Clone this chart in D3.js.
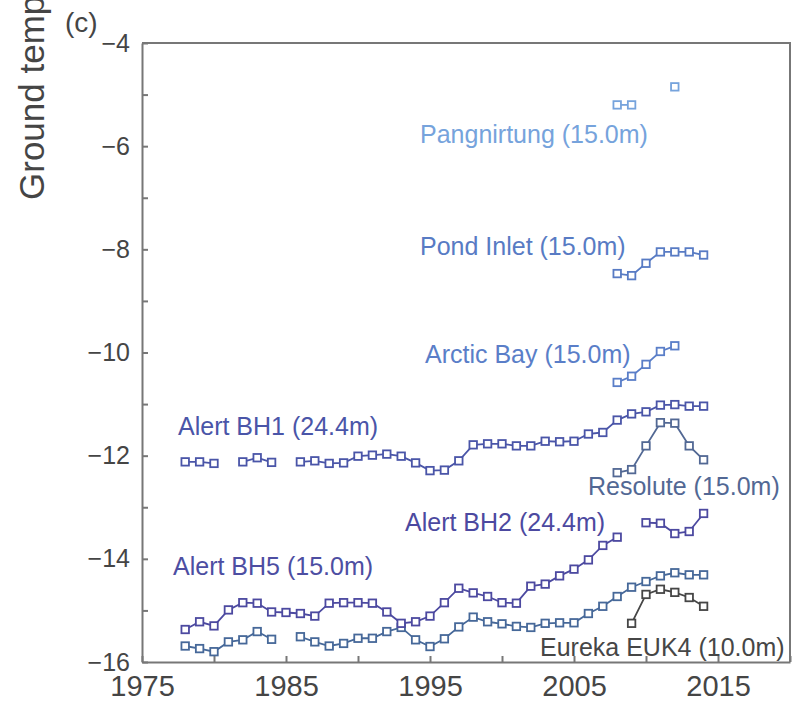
<!DOCTYPE html>
<html>
<head>
<meta charset="utf-8">
<script src="https://cdn.jsdelivr.net/npm/d3@7"></script>
<style>
html,body{margin:0;padding:0;background:#fff;}
svg{display:block;font-family:"Liberation Sans",Arial,sans-serif;}
</style>
</head>
<body>
<svg id="chart" width="792" height="702"></svg>
<script>
// ---------- data ----------
const yearsAlert = [1978,1979,1980,1981,1982,1983,1984,1985,1986,1987,1988,1989,1990,1991,1992,1993,1994,1995,1996,1997,1998,1999,2000,2001,2002,2003,2004,2005,2006,2007,2008,2009,2010,2011,2012,2013,2014];
const alertBH1 = [-12.12,-12.12,-12.15,null,-12.12,-12.04,-12.13,null,-12.12,-12.10,-12.15,-12.14,-12.01,-11.99,-11.97,-12.01,-12.14,-12.29,-12.28,-12.10,-11.79,-11.77,-11.77,-11.81,-11.81,-11.72,-11.73,-11.72,-11.58,-11.55,-11.31,-11.19,-11.15,-11.02,-11.01,-11.04,-11.04];
const alertBH2 = [-15.37,-15.22,-15.30,-14.99,-14.85,-14.86,-15.03,-15.04,-15.06,-15.11,-14.86,-14.85,-14.85,-14.86,-15.03,-15.25,-15.22,-15.11,-14.85,-14.57,-14.66,-14.73,-14.85,-14.86,-14.53,-14.49,-14.33,-14.20,-14.02,-13.74,-13.58,null,-13.30,-13.31,-13.51,-13.47,-13.12];
const alertBH5 = [-15.69,-15.74,-15.80,-15.61,-15.57,-15.41,-15.56,null,-15.51,-15.61,-15.69,-15.64,-15.54,-15.54,-15.41,-15.33,-15.57,-15.70,-15.55,-15.32,-15.13,-15.22,-15.26,-15.31,-15.33,-15.25,-15.24,-15.24,-15.06,-14.92,-14.73,-14.55,-14.44,-14.33,-14.27,-14.31,-14.31];
const yearsRecent = [2008,2009,2010,2011,2012,2013,2014];
const resolute = [-12.33,-12.27,-11.81,-11.36,-11.37,-11.81,-12.08];
const pondInlet = [-8.47,-8.51,-8.27,-8.05,-8.05,-8.05,-8.11];
const arcticBay = [-10.58,-10.46,-10.23,-9.98,-9.87,null,null];
const pangnirtung = [-5.20,-5.20,null,null,-4.85,null,null];
const yearsEureka = [2009,2010,2011,2012,2013,2014];
const eureka = [-15.25,-14.69,-14.59,-14.65,-14.75,-14.92];

const xTicks = [1975,1980,1985,1990,1995,2000,2005,2010,2015,2020];
const xTickLabels = [1975,1985,1995,2005,2015];
const yTicks = [-16,-15,-14,-13,-12,-11,-10,-9,-8,-7,-6,-5,-4];
const yTickLabels = [-16,-14,-12,-10,-8,-6,-4];

const seriesList = [
  {name:"Alert BH1 (24.4m)", years:yearsAlert, values:alertBH1, color:"#4a55a8", label:[178,435]},
  {name:"Alert BH5 (15.0m)", years:yearsAlert, values:alertBH5, color:"#466899", label:[173,575], labelColor:"#4d4ea2"},
  {name:"Alert BH2 (24.4m)", years:yearsAlert, values:alertBH2, color:"#4c49a0", label:[405,531]},
  {name:"Resolute (15.0m)", years:yearsRecent, values:resolute, color:"#526894", label:[588,495]},
  {name:"Arctic Bay (15.0m)", years:yearsRecent, values:arcticBay, color:"#5a7ec8", label:[425,363]},
  {name:"Pond Inlet (15.0m)", years:yearsRecent, values:pondInlet, color:"#587bc4", label:[420,255]},
  {name:"Pangnirtung (15.0m)", years:yearsRecent, values:pangnirtung, color:"#76a3dc", label:[420,143]},
  {name:"Eureka EUK4 (10.0m)", years:yearsEureka, values:eureka, color:"#464646", label:[540,656]}
];

// ---------- chart ----------
const svg = d3.select("#chart");
const x = d3.scaleLinear().domain([1975, 2020]).range([142, 790]);
const y = d3.scaleLinear().domain([-16, -4]).range([662, 43]);
const axisColor = "#777";
const textColor = "#454545";

// frame (top & right)
svg.append("path")
  .attr("d", `M${x(1975)},${y(-4)}H${x(2020)}V${y(-16)}`)
  .attr("fill","none").attr("stroke",axisColor).attr("stroke-width",2);

const gx = svg.append("g").attr("transform",`translate(0,${y(-16)})`)
  .call(d3.axisBottom(x).tickValues(xTicks).tickSizeInner(-6).tickSizeOuter(0)
    .tickFormat(d => xTickLabels.includes(d) ? String(d) : ""));
gx.select(".domain").attr("stroke",axisColor).attr("stroke-width",2);
gx.selectAll(".tick line").attr("stroke",axisColor).attr("stroke-width",2);
gx.selectAll(".tick text").attr("y",34).attr("dy",0).attr("fill",textColor)
  .style("font-size","29px").style("font-family","Liberation Sans, Arial, sans-serif");

const gy = svg.append("g").attr("transform",`translate(${x(1975)},0)`)
  .call(d3.axisLeft(y).tickValues(yTicks).tickSizeInner(-6).tickSizeOuter(0).tickPadding(12)
    .tickFormat(d => yTickLabels.includes(d) ? d3.format("d")(d) : ""));
gy.select(".domain").attr("stroke",axisColor).attr("stroke-width",2);
gy.selectAll(".tick line").attr("stroke",axisColor).attr("stroke-width",2);
gy.selectAll(".tick text").attr("fill",textColor)
  .style("font-size","25px").style("font-family","Liberation Sans, Arial, sans-serif");

// axis title (clipped at top, as in the original figure) and panel tag
svg.append("text")
  .attr("transform","translate(44,200) rotate(-90)")
  .attr("fill",textColor).style("font-size","35px")
  .text("Ground temperature (°C)");
svg.append("text").attr("x",65).attr("y",32).attr("fill",textColor)
  .style("font-size","28px").text("(c)");

// series
const line = d3.line().defined(d => d.v != null).x(d => x(d.yr)).y(d => y(d.v));
const sq = 7.5;
seriesList.forEach(s => {
  const pts = s.years.map((yr,i) => ({yr, v:s.values[i]}));
  svg.append("path").datum(pts).attr("d", line)
    .attr("fill","none").attr("stroke", s.color).attr("stroke-width",1.8);
  svg.append("g").selectAll("rect").data(pts.filter(d => d.v != null)).join("rect")
    .attr("x", d => x(d.yr) - sq/2).attr("y", d => y(d.v) - sq/2)
    .attr("width", sq).attr("height", sq)
    .attr("fill","#fff").attr("stroke", s.color).attr("stroke-width",1.8);
  svg.append("text").attr("x", s.label[0]).attr("y", s.label[1])
    .attr("fill", s.labelColor || s.color).style("font-size","25px")
    .text(s.name);
});
</script>
</body>
</html>
